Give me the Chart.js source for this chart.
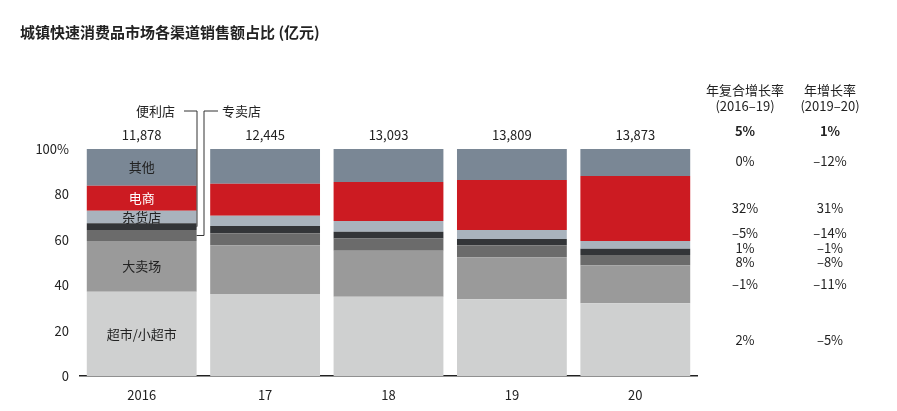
<!DOCTYPE html>
<html>
<head>
<meta charset="utf-8">
<script src="https://cdn.jsdelivr.net/npm/chart.js@4"></script>
<style>
  body { margin: 0; background: #fff; }
  #wrap { width: 897px; height: 411px; }
</style>
</head>
<body>
<div id="wrap"><canvas id="myChart" width="897" height="411"></canvas></div>
<script>
const years = ["2016", "17", "18", "19", "20"];
const totals = ["11,878", "12,445", "13,093", "13,809", "13,873"];
const supermarket = [37.1, 36.1, 34.9, 33.8, 32.0];
const hypermarket = [22.4, 21.5, 20.3, 18.5, 16.8];
const specialty = [4.8, 5.3, 5.4, 5.3, 4.5];
const convenience = [3.0, 3.2, 3.0, 2.8, 2.8];
const grocery = [5.5, 4.5, 4.7, 3.9, 3.4];
const ecommerce = [11.0, 14.1, 17.2, 22.0, 28.6];
const other = [16.2, 15.3, 14.5, 13.7, 11.9];

const cagr = ["5%", "0%", "32%", "–5%", "1%", "8%", "–1%", "2%"];
const yoy = ["1%", "–12%", "31%", "–14%", "–1%", "–8%", "–11%", "–5%"];
const rowY = [131, 161, 208, 233, 248, 262, 284, 340];

const FONT = "'Noto Sans CJK SC', 'Noto Sans', sans-serif";

const extras = {
  id: "extras",
  afterDraw(chart) {
    const c = chart.ctx;
    const xs = chart.scales.x;
    const ys = chart.scales.y;
    c.save();
    c.fillStyle = "#222";
    c.textBaseline = "middle";

    c.font = "bold 15px " + FONT;
    c.textAlign = "left";
    c.fillText("城镇快速消费品市场各渠道销售额占比 (亿元)", 20, 32);

    c.font = "13px " + FONT;
    c.textAlign = "center";
    totals.forEach((t, i) => c.fillText(t, xs.getPixelForValue(i), 135));

    // labels inside first bar
    const x0 = xs.getPixelForValue(0);
    const mid = (a, b) => ys.getPixelForValue((a + b) / 2);
    let acc = 0;
    const segs = [supermarket, hypermarket, specialty, convenience, grocery, ecommerce, other];
    const bounds = segs.map(s => { const b = [acc, acc + s[0]]; acc += s[0]; return b; });
    c.fillText("超市/小超市", x0, mid(...bounds[0]));
    c.fillText("大卖场", x0, mid(...bounds[1]));
    c.fillText("杂货店", x0, mid(...bounds[4]));
    c.fillStyle = "#fff";
    c.fillText("电商", x0, mid(...bounds[5]));
    c.fillStyle = "#222";
    c.fillText("其他", x0, mid(...bounds[6]));

    // callouts
    const meta = chart.getDatasetMeta(0).data[0];
    const right = meta.x + meta.width / 2;
    c.textAlign = "left";
    c.fillText("便利店", 136, 111);
    c.fillText("专卖店", 222, 111);
    c.strokeStyle = "#333";
    c.lineWidth = 1;
    c.beginPath();
    c.moveTo(184, 111); c.lineTo(197, 111);
    c.lineTo(197, mid(...bounds[3])); c.lineTo(right, mid(...bounds[3]));
    c.moveTo(218, 111); c.lineTo(204, 111);
    c.lineTo(204, mid(...bounds[2])); c.lineTo(right, mid(...bounds[2]));
    c.stroke();

    // growth columns
    c.textAlign = "center";
    c.font = "13px " + FONT;
    c.fillText("年复合增长率", 745, 90);
    c.fillText("(2016–19)", 745, 106);
    c.fillText("年增长率", 830, 90);
    c.fillText("(2019–20)", 830, 106);
    rowY.forEach((y, i) => {
      c.font = (i === 0 ? "bold " : "") + "13px " + FONT;
      c.fillText(cagr[i], 745, y);
      c.fillText(yoy[i], 830, y);
    });
    c.restore();
  }
};

const mk = (label, data, color) => ({ label, data, backgroundColor: color, borderWidth: 0 });

new Chart(document.getElementById("myChart"), {
  type: "bar",
  data: {
    labels: years,
    datasets: [
      mk("超市/小超市", supermarket, "#cfd0d0"),
      mk("大卖场", hypermarket, "#9a9a9a"),
      mk("专卖店", specialty, "#6b6b6b"),
      mk("便利店", convenience, "#333538"),
      mk("杂货店", grocery, "#a9b3bd"),
      mk("电商", ecommerce, "#cc1b22"),
      mk("其他", other, "#7a8795"),
    ],
  },
  options: {
    responsive: false,
    animation: false,
    datasets: { bar: { barPercentage: 0.89, categoryPercentage: 1 } },
    layout: { padding: { top: 149, right: 200, left: 0, bottom: 0 } },
    plugins: { legend: { display: false }, tooltip: { enabled: false } },
    scales: {
      x: {
        stacked: true,
        grid: { display: false },
        border: { color: "#222", width: 1.5 },
        ticks: { color: "#222", font: { size: 13, family: FONT } },
        afterFit: (s) => { s.height = 35; },
      },
      y: {
        stacked: true,
        min: 0,
        max: 100,
        grid: { display: false },
        border: { display: false },
        ticks: {
          stepSize: 20,
          color: "#222",
          font: { size: 13, family: FONT },
          callback: (v) => (v === 100 ? "100%" : v),
        },
        afterFit: (s) => { s.width = 80; },
      },
    },
  },
  plugins: [extras],
});
</script>
</body>
</html>
